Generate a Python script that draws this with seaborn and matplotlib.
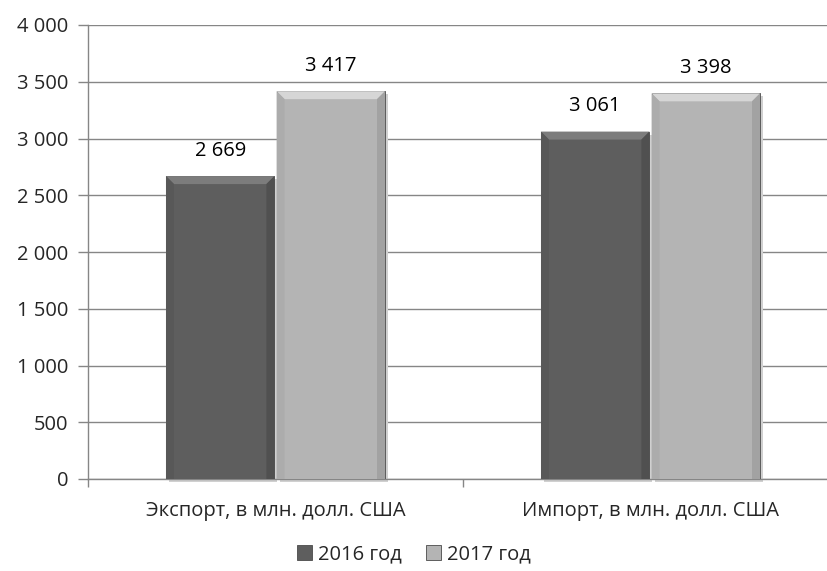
import numpy as np
import pandas as pd
import matplotlib.pyplot as plt
import seaborn as sns
from matplotlib.patches import Polygon

# Данные
categories = ["Экспорт, в млн. долл. США", "Импорт, в млн. долл. США"]
years = ["2016 год", "2017 год"]
values_2016 = [2669, 3061]
values_2017 = [3417, 3398]
y_ticks = [0, 500, 1000, 1500, 2000, 2500, 3000, 3500, 4000]

df = pd.DataFrame({
    "Показатель": categories * 2,
    "Год": [years[0]] * 2 + [years[1]] * 2,
    "Значение": values_2016 + values_2017,
})

sns.set_style("white")
plt.rcParams["font.family"] = ["Open Sans", "DejaVu Sans"]

fig = plt.figure(figsize=(8.28, 5.71), dpi=100)
ax = fig.add_axes([88 / 828, 92 / 571, 750 / 828, 454 / 571])

palette = {years[0]: "#5e5e5e", years[1]: "#b4b4b4"}
sns.barplot(data=df, x="Показатель", y="Значение", hue="Год", palette=palette,
            width=0.59, gap=0.02, saturation=1, edgecolor="#4a4a4a", linewidth=0.6,
            ax=ax, legend=True, zorder=3)

# подписи значений
for cont in ax.containers:
    labels = [f"{int(v):,}".replace(",", " ") for v in cont.datavalues]
    ax.bar_label(cont, labels=labels, padding=11, fontsize=14.5, color="black")

ax.set_ylim(0, 4000)
ax.set_yticks(y_ticks)
ax.set_yticklabels([f"{t:,}".replace(",", " ") for t in y_ticks], fontsize=14.5)
ax.set_xlim(-0.5, 1.5)
ax.set_xticks([0, 1])
ax.set_xticklabels(categories, fontsize=14.5)
ax.tick_params(axis="x", length=0, pad=16)
ax.set_xticks([-0.5, 0.5, 1.5], minor=True)
ax.tick_params(axis="x", which="minor", length=6, color="#868686", width=1, direction="out", bottom=True)
ax.tick_params(axis="y", length=7, color="#868686", width=1, direction="out", left=True, pad=7)
ax.set_xlabel("")
ax.set_ylabel("")

ax.yaxis.grid(True, color="#868686", linewidth=1)
ax.set_axisbelow(True)
for side in ["top", "right"]:
    ax.spines[side].set_visible(False)
for side in ["left", "bottom"]:
    ax.spines[side].set_color("#868686")
    ax.spines[side].set_linewidth(1)

# эффект фаски на столбцах
fig.canvas.draw()
bevel = 8
shades = {"#5e5e5e": ("#7c7c7c", "#585858", "#505050"),
          "#b4b4b4": ("#d6d6d6", "#acacac", "#a2a2a2")}
for cont, col in zip(ax.containers, ["#5e5e5e", "#b4b4b4"]):
    top_c, side_c, bot_c = shades[col]
    for p in cont.patches:
        bb = p.get_window_extent()
        x0, y0, x1, y1 = bb.x0, bb.y0, bb.x1, bb.y1
        polys = [
            ([(x0, y1), (x1, y1), (x1 - bevel, y1 - bevel), (x0 + bevel, y1 - bevel)], top_c),
            ([(x0, y0), (x0, y1), (x0 + bevel, y1 - bevel), (x0 + bevel, y0)], side_c),
            ([(x1, y0), (x1, y1), (x1 - bevel, y1 - bevel), (x1 - bevel, y0)], bot_c),
        ]
        for pts, c in polys:
            ax.add_patch(Polygon(pts, closed=True, transform=None, facecolor=c,
                                 edgecolor="none", zorder=4))
        # тень
        ax.add_patch(Polygon([(x0 + 3, y0 - 3), (x1 + 3, y0 - 3), (x1 + 3, y1 - 3), (x1, y1 - 3),
                              (x1, y0), (x0 + 3, y0)], closed=True, transform=None,
                             facecolor="#d0d0d0", edgecolor="none", zorder=2.5, clip_on=False))

handles, labs = ax.get_legend_handles_labels()
ax.legend_.remove()
fig.legend(handles, labs, loc="lower center", bbox_to_anchor=(0.5, -0.02), ncol=2,
           frameon=False, fontsize=14.5, handlelength=0.75, handleheight=0.75,
           handletextpad=0.3, columnspacing=1.2)

fig.savefig("out.png", dpi=100)
